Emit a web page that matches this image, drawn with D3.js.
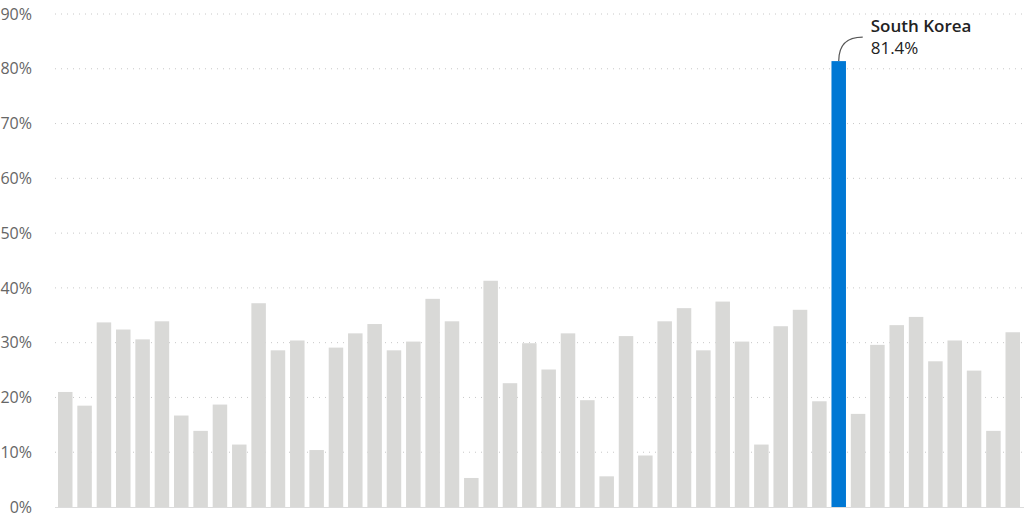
<!DOCTYPE html>
<html>
<head>
<meta charset="utf-8">
<script src="https://cdn.jsdelivr.net/npm/d3@7"></script>
<style>
  body { margin: 0; background: #fff; }
  svg { display: block; font-family: "Open Sans", "Noto Sans", sans-serif; }
</style>
</head>
<body>
<svg width="1024" height="524"></svg>
<script>
// values in percent, one per country (only the highlighted one is named)
let countries = d3.range(50).map(function (i) { return "c" + i; });
countries[40] = "South Korea";
let values = [
  21.0, 18.5, 33.7, 32.4, 30.6, 33.9, 16.7, 13.9, 18.7, 11.4,
  37.2, 28.6, 30.4, 10.4, 29.1, 31.7, 33.4, 28.6, 30.2, 38.0,
  33.9, 5.3, 41.3, 22.6, 29.9, 25.1, 31.7, 19.5, 5.6, 31.2,
  9.4, 33.9, 36.3, 28.6, 37.5, 30.2, 11.4, 33.0, 36.0, 19.3,
  81.4, 17.0, 29.6, 33.2, 34.7, 26.6, 30.4, 24.9, 13.9, 31.9
];
let yTicks = [0, 10, 20, 30, 40, 50, 60, 70, 80, 90];
let highlight = "South Korea";

let svg = d3.select("svg");

let xScale = d3.scaleBand()
  .domain(countries)
  .range([58, 1020])
  .paddingInner(0.25)
  .paddingOuter(0);

let yScale = d3.scaleLinear()
  .domain([0, 90])
  .range([507, 14]);

// dotted gridlines
svg.append("g")
  .selectAll("line")
  .data(yTicks.filter(function (d) { return d > 0; }))
  .enter()
  .append("line")
  .attr("x1", 55)
  .attr("x2", 1024)
  .attr("y1", function (d) { return yScale(d); })
  .attr("y2", function (d) { return yScale(d); })
  .attr("stroke", "#c8c8c8")
  .attr("stroke-width", 1)
  .attr("stroke-dasharray", "1,5");

// y axis labels
let yAxis = d3.axisLeft(yScale)
  .tickValues(yTicks)
  .tickSize(0)
  .tickPadding(0)
  .tickFormat(function (d) { return d + "%"; });

svg.append("g")
  .attr("transform", "translate(32, 0)")
  .call(yAxis)
  .call(function (g) { g.select(".domain").remove(); })
  .selectAll("text")
  .attr("fill", "#666")
  .style("font-size", "16px")
  .style("font-family", "'Open Sans', 'Noto Sans', sans-serif");

// bars
svg.append("g")
  .selectAll("rect")
  .data(values)
  .enter()
  .append("rect")
  .attr("x", function (d, i) { return xScale(countries[i]); })
  .attr("y", function (d) { return yScale(d); })
  .attr("width", xScale.bandwidth())
  .attr("height", function (d) { return yScale(0) - yScale(d); })
  .attr("fill", function (d, i) {
    return countries[i] == highlight ? "#0078d4" : "#d9d9d7";
  });

// baseline
svg.append("line")
  .attr("x1", 55)
  .attr("x2", 1024)
  .attr("y1", yScale(0) + 0.5)
  .attr("y2", yScale(0) + 0.5)
  .attr("stroke", "#dcdcdc")
  .attr("stroke-width", 1);

// annotation for the highlighted bar
let hi = countries.indexOf(highlight);
let bx = xScale(highlight) + xScale.bandwidth() / 2;
let by = yScale(values[hi]);
let ex = bx + 24;
let ey = by - 24;

svg.append("path")
  .attr("d", "M" + bx + "," + by + " C" + bx + "," + (ey + 6) + " " + (ex - 14) + "," + ey + " " + ex + "," + ey)
  .attr("fill", "none")
  .attr("stroke", "#555")
  .attr("stroke-width", 1.2);

svg.append("text")
  .attr("x", ex + 8)
  .attr("y", 32)
  .attr("fill", "#222")
  .style("font-size", "17px")
  .style("font-weight", 600)
  .text(highlight);

svg.append("text")
  .attr("x", ex + 8)
  .attr("y", 54)
  .attr("fill", "#222")
  .style("font-size", "17px")
  .text(values[hi].toFixed(1) + "%");
</script>
</body>
</html>
